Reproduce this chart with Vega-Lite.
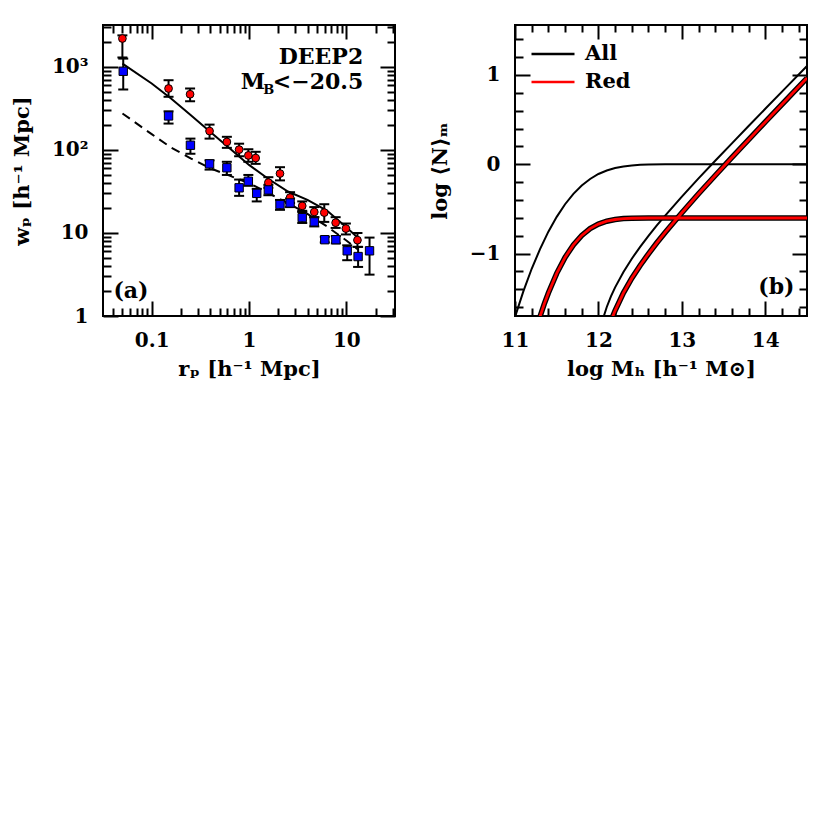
{
  "$schema": "https://vega.github.io/schema/vega-lite/v6.json",
  "background": "white",
  "padding": {"left": 10, "top": 23, "right": 5, "bottom": 5},
  "bounds": "flush",
  "spacing": 120,
  "config": {
    "view": {"stroke": "black", "strokeWidth": 2},
    "axis": {"labelFont": "DejaVu Serif", "labelFontWeight": "bold", "labelFontSize": 20, "labelColor": "black",
             "titleFont": "DejaVu Serif", "titleFontWeight": "bold", "titleFontSize": 21, "titleColor": "black",
             "tickColor": "black", "tickWidth": 2, "domain": false, "grid": false,
             "labelFlush": false, "labelOverlap": false, "labelBound": false},
    "text": {"font": "DejaVu Serif", "fontWeight": "bold", "color": "black"},
    "legend": {"labelFont": "DejaVu Serif", "labelFontWeight": "bold", "labelFontSize": 21, "labelColor": "black"}
  },
  "datasets": {
    "pts": [
      {"sample": "red", "r": 0.05, "w": 2200, "lo": 1300, "hi": 2400},
      {"sample": "red", "r": 0.149, "w": 550, "lo": 437, "hi": 692},
      {"sample": "red", "r": 0.248, "w": 469, "lo": 386, "hi": 550},
      {"sample": "red", "r": 0.393, "w": 169, "lo": 137, "hi": 202},
      {"sample": "red", "r": 0.592, "w": 125, "lo": 106, "hi": 144},
      {"sample": "red", "r": 0.791, "w": 101, "lo": 84, "hi": 119},
      {"sample": "red", "r": 0.984, "w": 86, "lo": 72, "hi": 102},
      {"sample": "red", "r": 1.17, "w": 80, "lo": 68, "hi": 95},
      {"sample": "red", "r": 1.58, "w": 40.5, "lo": 35, "hi": 47},
      {"sample": "red", "r": 2.08, "w": 52, "lo": 43, "hi": 62},
      {"sample": "red", "r": 2.64, "w": 26.7, "lo": 23, "hi": 31},
      {"sample": "red", "r": 3.52, "w": 21.2, "lo": 18.5, "hi": 24},
      {"sample": "red", "r": 4.68, "w": 17.9, "lo": 15.5, "hi": 20.5},
      {"sample": "red", "r": 5.93, "w": 17.6, "lo": 13.6, "hi": 22.2},
      {"sample": "red", "r": 7.76, "w": 13.3, "lo": 11.5, "hi": 15.5},
      {"sample": "red", "r": 9.89, "w": 11.3, "lo": 9.6, "hi": 13},
      {"sample": "red", "r": 13.0, "w": 8.2, "lo": 6.8, "hi": 10},
      {"sample": "blue", "r": 0.051, "w": 887, "lo": 535, "hi": 1260},
      {"sample": "blue", "r": 0.149, "w": 257, "lo": 208, "hi": 292},
      {"sample": "blue", "r": 0.25, "w": 114, "lo": 90, "hi": 137},
      {"sample": "blue", "r": 0.393, "w": 68, "lo": 58, "hi": 75},
      {"sample": "blue", "r": 0.592, "w": 61, "lo": 50, "hi": 72},
      {"sample": "blue", "r": 0.791, "w": 35, "lo": 28, "hi": 44},
      {"sample": "blue", "r": 0.984, "w": 42, "lo": 37, "hi": 50},
      {"sample": "blue", "r": 1.2, "w": 30, "lo": 24, "hi": 34},
      {"sample": "blue", "r": 1.58, "w": 33, "lo": 28.5, "hi": 38},
      {"sample": "blue", "r": 2.08, "w": 22, "lo": 19, "hi": 25},
      {"sample": "blue", "r": 2.64, "w": 23, "lo": 20.5, "hi": 26},
      {"sample": "blue", "r": 3.52, "w": 15.3, "lo": 13.2, "hi": 17.9},
      {"sample": "blue", "r": 4.68, "w": 13.6, "lo": 12, "hi": 15.5},
      {"sample": "blue", "r": 6.0, "w": 8.3, "lo": 7.7, "hi": 9.0},
      {"sample": "blue", "r": 7.8, "w": 8.3, "lo": 7.5, "hi": 9.2},
      {"sample": "blue", "r": 10.2, "w": 6.1, "lo": 4.7, "hi": 7.1},
      {"sample": "blue", "r": 13.2, "w": 5.2, "lo": 3.9, "hi": 6.8},
      {"sample": "blue", "r": 17.3, "w": 6.1, "lo": 3.15, "hi": 8.8}
    ],
    "models": [
      {"model": "solid", "r": 0.0501, "w": 1096},
      {"model": "solid", "r": 0.1, "w": 631},
      {"model": "solid", "r": 0.158, "w": 417},
      {"model": "solid", "r": 0.251, "w": 263},
      {"model": "solid", "r": 0.398, "w": 166},
      {"model": "solid", "r": 0.631, "w": 105},
      {"model": "solid", "r": 1.0, "w": 66.1},
      {"model": "solid", "r": 1.585, "w": 44.7},
      {"model": "solid", "r": 2.512, "w": 31.6},
      {"model": "solid", "r": 3.981, "w": 25.1},
      {"model": "solid", "r": 6.31, "w": 18.6},
      {"model": "solid", "r": 10.0, "w": 11.7},
      {"model": "solid", "r": 13.18, "w": 8.71},
      {"model": "dashed", "r": 0.0501, "w": 275},
      {"model": "dashed", "r": 0.1, "w": 155},
      {"model": "dashed", "r": 0.158, "w": 107},
      {"model": "dashed", "r": 0.251, "w": 79.4},
      {"model": "dashed", "r": 0.398, "w": 60.3},
      {"model": "dashed", "r": 0.631, "w": 49.0},
      {"model": "dashed", "r": 1.0, "w": 39.8},
      {"model": "dashed", "r": 1.585, "w": 30.2},
      {"model": "dashed", "r": 2.512, "w": 22.9},
      {"model": "dashed", "r": 3.981, "w": 17.0},
      {"model": "dashed", "r": 6.31, "w": 12.0},
      {"model": "dashed", "r": 10.0, "w": 8.13},
      {"model": "dashed", "r": 13.18, "w": 6.31}
    ],
    "hod": [
      {"sample": "All", "curve": "cenAll", "x": 11.0, "y": -1.712},
      {"sample": "All", "curve": "cenAll", "x": 11.1, "y": -1.425},
      {"sample": "All", "curve": "cenAll", "x": 11.2, "y": -1.171},
      {"sample": "All", "curve": "cenAll", "x": 11.3, "y": -0.951},
      {"sample": "All", "curve": "cenAll", "x": 11.4, "y": -0.755},
      {"sample": "All", "curve": "cenAll", "x": 11.5, "y": -0.589},
      {"sample": "All", "curve": "cenAll", "x": 11.6, "y": -0.448},
      {"sample": "All", "curve": "cenAll", "x": 11.7, "y": -0.331},
      {"sample": "All", "curve": "cenAll", "x": 11.8, "y": -0.238},
      {"sample": "All", "curve": "cenAll", "x": 11.9, "y": -0.165},
      {"sample": "All", "curve": "cenAll", "x": 12.0, "y": -0.109},
      {"sample": "All", "curve": "cenAll", "x": 12.1, "y": -0.070},
      {"sample": "All", "curve": "cenAll", "x": 12.2, "y": -0.042},
      {"sample": "All", "curve": "cenAll", "x": 12.3, "y": -0.024},
      {"sample": "All", "curve": "cenAll", "x": 12.4, "y": -0.013},
      {"sample": "All", "curve": "cenAll", "x": 12.5, "y": -0.006},
      {"sample": "All", "curve": "cenAll", "x": 12.6, "y": -0.003},
      {"sample": "All", "curve": "cenAll", "x": 12.8, "y": -0.001},
      {"sample": "All", "curve": "cenAll", "x": 13.0, "y": 0},
      {"sample": "All", "curve": "cenAll", "x": 14.5, "y": 0},
      {"sample": "All", "curve": "satAll", "x": 12.05, "y": -1.744},
      {"sample": "All", "curve": "satAll", "x": 12.1, "y": -1.599},
      {"sample": "All", "curve": "satAll", "x": 12.15, "y": -1.481},
      {"sample": "All", "curve": "satAll", "x": 12.2, "y": -1.379},
      {"sample": "All", "curve": "satAll", "x": 12.3, "y": -1.206},
      {"sample": "All", "curve": "satAll", "x": 12.4, "y": -1.058},
      {"sample": "All", "curve": "satAll", "x": 12.5, "y": -0.925},
      {"sample": "All", "curve": "satAll", "x": 12.6, "y": -0.802},
      {"sample": "All", "curve": "satAll", "x": 12.7, "y": -0.686},
      {"sample": "All", "curve": "satAll", "x": 12.8, "y": -0.575},
      {"sample": "All", "curve": "satAll", "x": 13.0, "y": -0.363},
      {"sample": "All", "curve": "satAll", "x": 13.2, "y": -0.159},
      {"sample": "All", "curve": "satAll", "x": 13.4, "y": 0.039},
      {"sample": "All", "curve": "satAll", "x": 13.6, "y": 0.234},
      {"sample": "All", "curve": "satAll", "x": 13.8, "y": 0.428},
      {"sample": "All", "curve": "satAll", "x": 14.0, "y": 0.621},
      {"sample": "All", "curve": "satAll", "x": 14.25, "y": 0.861},
      {"sample": "All", "curve": "satAll", "x": 14.5, "y": 1.100},
      {"sample": "Red", "curve": "cenRed", "x": 11.3, "y": -1.706},
      {"sample": "Red", "curve": "cenRed", "x": 11.35, "y": -1.567},
      {"sample": "Red", "curve": "cenRed", "x": 11.4, "y": -1.442},
      {"sample": "Red", "curve": "cenRed", "x": 11.5, "y": -1.222},
      {"sample": "Red", "curve": "cenRed", "x": 11.6, "y": -1.043},
      {"sample": "Red", "curve": "cenRed", "x": 11.7, "y": -0.903},
      {"sample": "Red", "curve": "cenRed", "x": 11.8, "y": -0.797},
      {"sample": "Red", "curve": "cenRed", "x": 11.9, "y": -0.721},
      {"sample": "Red", "curve": "cenRed", "x": 12.0, "y": -0.670},
      {"sample": "Red", "curve": "cenRed", "x": 12.1, "y": -0.638},
      {"sample": "Red", "curve": "cenRed", "x": 12.2, "y": -0.619},
      {"sample": "Red", "curve": "cenRed", "x": 12.3, "y": -0.609},
      {"sample": "Red", "curve": "cenRed", "x": 12.4, "y": -0.605},
      {"sample": "Red", "curve": "cenRed", "x": 12.6, "y": -0.602},
      {"sample": "Red", "curve": "cenRed", "x": 14.5, "y": -0.602},
      {"sample": "Red", "curve": "satRed", "x": 12.14, "y": -1.787},
      {"sample": "Red", "curve": "satRed", "x": 12.17, "y": -1.709},
      {"sample": "Red", "curve": "satRed", "x": 12.2, "y": -1.639},
      {"sample": "Red", "curve": "satRed", "x": 12.3, "y": -1.441},
      {"sample": "Red", "curve": "satRed", "x": 12.4, "y": -1.277},
      {"sample": "Red", "curve": "satRed", "x": 12.5, "y": -1.134},
      {"sample": "Red", "curve": "satRed", "x": 12.6, "y": -1.003},
      {"sample": "Red", "curve": "satRed", "x": 12.7, "y": -0.880},
      {"sample": "Red", "curve": "satRed", "x": 12.8, "y": -0.764},
      {"sample": "Red", "curve": "satRed", "x": 13.0, "y": -0.543},
      {"sample": "Red", "curve": "satRed", "x": 13.2, "y": -0.331},
      {"sample": "Red", "curve": "satRed", "x": 13.4, "y": -0.126},
      {"sample": "Red", "curve": "satRed", "x": 13.6, "y": 0.076},
      {"sample": "Red", "curve": "satRed", "x": 13.8, "y": 0.275},
      {"sample": "Red", "curve": "satRed", "x": 14.0, "y": 0.474},
      {"sample": "Red", "curve": "satRed", "x": 14.25, "y": 0.720},
      {"sample": "Red", "curve": "satRed", "x": 14.5, "y": 0.966}
    ]
  },
  "hconcat": [
    {
      "width": 292,
      "height": 291,
      "layer": [
        {
          "data": {"name": "models"},
          "transform": [{"filter": "datum.model == 'solid'"}],
          "mark": {"type": "line", "stroke": "black", "strokeWidth": 2, "clip": true},
          "encoding": {
            "x": {"field": "r", "type": "quantitative",
                  "scale": {"type": "log", "domain": [0.0316, 31.6], "nice": false},
                  "axis": {"orient": "bottom", "title": "rₚ [h⁻¹ Mpc]", "titlePadding": 8,
                           "values": [0.1, 1, 10],
                           "labelExpr": "datum.value==0.1?'0.1':datum.value==1?'1':'10'",
                           "labelPadding": 29, "tickSize": -15}},
            "y": {"field": "w", "type": "quantitative",
                  "scale": {"type": "log", "domain": [1, 3200], "nice": false},
                  "axis": {"orient": "left", "title": "wₚ [h⁻¹ Mpc]", "titlePadding": 19,
                           "values": [1, 10, 100, 1000],
                           "labelExpr": "datum.value==1?'1':datum.value==10?'10':datum.value==100?'10²':'10³'",
                           "labelPadding": 30, "tickSize": -15}}
          }
        },
        {
          "data": {"name": "models"},
          "transform": [{"filter": "datum.model == 'dashed'"}],
          "mark": {"type": "line", "stroke": "black", "strokeWidth": 2, "strokeDash": [9, 6], "clip": true},
          "encoding": {
            "x": {"field": "r", "type": "quantitative",
                  "axis": {"orient": "bottom", "title": null, "labels": false,
                           "values": [0.04,0.05,0.06,0.07,0.08,0.09,0.2,0.3,0.4,0.5,0.6,0.7,0.8,0.9,2,3,4,5,6,7,8,9,20,30],
                           "tickSize": -8}},
            "y": {"field": "w", "type": "quantitative",
                  "axis": {"orient": "left", "title": null, "labels": false,
                           "values": [2,3,4,5,6,7,8,9,20,30,40,50,60,70,80,90,200,300,400,500,600,700,800,900,2000,3000],
                           "tickSize": -8}}
          }
        },
        {
          "data": {"name": "pts"},
          "mark": {"type": "rule", "stroke": "black", "strokeWidth": 2, "clip": true},
          "encoding": {
            "x": {"field": "r", "type": "quantitative",
                  "axis": {"orient": "top", "title": null, "labels": false, "values": [0.1, 1, 10], "tickSize": -14}},
            "y": {"field": "lo", "type": "quantitative",
                  "axis": {"orient": "right", "title": null, "labels": false, "values": [1, 10, 100, 1000], "tickSize": -15}},
            "y2": {"field": "hi"}
          }
        },
        {
          "data": {"name": "pts"},
          "transform": [{"fold": ["lo", "hi"], "as": ["end", "val"]}],
          "mark": {"type": "point", "shape": "stroke", "filled": false, "stroke": "black", "strokeWidth": 2, "size": 100, "opacity": 1, "clip": true},
          "encoding": {
            "x": {"field": "r", "type": "quantitative",
                  "axis": {"orient": "top", "title": null, "labels": false,
                           "values": [0.04,0.05,0.06,0.07,0.08,0.09,0.2,0.3,0.4,0.5,0.6,0.7,0.8,0.9,2,3,4,5,6,7,8,9,20,30],
                           "tickSize": -8}},
            "y": {"field": "val", "type": "quantitative",
                  "axis": {"orient": "right", "title": null, "labels": false,
                           "values": [2,3,4,5,6,7,8,9,20,30,40,50,60,70,80,90,200,300,400,500,600,700,800,900,2000,3000],
                           "tickSize": -8}}
          }
        },
        {
          "data": {"name": "pts"},
          "transform": [{"filter": "datum.sample == 'red'"}],
          "mark": {"type": "point", "shape": "circle", "filled": true, "fill": "#ff0000", "stroke": "black", "strokeWidth": 1, "size": 60, "opacity": 1},
          "encoding": {
            "x": {"field": "r", "type": "quantitative", "axis": null},
            "y": {"field": "w", "type": "quantitative", "axis": null}
          }
        },
        {
          "data": {"name": "pts"},
          "transform": [{"filter": "datum.sample == 'blue'"}],
          "mark": {"type": "point", "shape": "square", "filled": true, "fill": "#0000ff", "stroke": "black", "strokeWidth": 1, "size": 70, "opacity": 1},
          "encoding": {
            "x": {"field": "r", "type": "quantitative", "axis": null},
            "y": {"field": "w", "type": "quantitative", "axis": null}
          }
        },
        {
          "data": {"values": [{"note": "sample label"}]},
          "mark": {"type": "text", "text": ["DEEP2", "M <−20.5"], "fontSize": 22, "lineHeight": 25, "align": "right", "baseline": "alphabetic"},
          "encoding": {"x": {"datum": 14.9, "type": "quantitative", "axis": null}, "y": {"datum": 1100, "type": "quantitative", "axis": null}}
        },
        {
          "data": {"values": [{"note": "subscript"}]},
          "mark": {"type": "text", "text": "B", "fontSize": 13, "align": "left", "baseline": "alphabetic", "dx": -100, "dy": 30},
          "encoding": {"x": {"datum": 14.9, "type": "quantitative", "axis": null}, "y": {"datum": 1100, "type": "quantitative", "axis": null}}
        },
        {
          "data": {"values": [{"note": "panel a"}]},
          "mark": {"type": "text", "text": "(a)", "fontSize": 22, "align": "left", "baseline": "alphabetic"},
          "encoding": {"x": {"datum": 0.0404, "type": "quantitative", "axis": null}, "y": {"datum": 1.63, "type": "quantitative", "axis": null}}
        }
      ],
      "resolve": {"axis": {"x": "independent", "y": "independent"}}
    },
    {
      "width": 292,
      "height": 291,
      "data": {"name": "hod"},
      "layer": [
        {
          "transform": [{"filter": "datum.sample == 'Red'"}],
          "mark": {"type": "line", "stroke": "black", "strokeWidth": 5.5, "clip": true},
          "encoding": {
            "x": {"field": "x", "type": "quantitative",
                  "scale": {"domain": [11, 14.5], "nice": false, "zero": false},
                  "axis": {"orient": "bottom", "title": "log Mₕ [h⁻¹ M⊙]", "titlePadding": 8,
                           "values": [11, 12, 13, 14],
                           "labelExpr": "format(datum.value,'d')",
                           "labelPadding": 29, "tickSize": -15}},
            "y": {"field": "y", "type": "quantitative",
                  "scale": {"domain": [-1.7, 1.56], "nice": false, "zero": false},
                  "axis": {"orient": "left", "title": "log ⟨N⟩ₘ", "titlePadding": 19,
                           "values": [-1, 0, 1],
                           "labelExpr": "datum.value==-1?'−1':datum.value==0?'0':'1'",
                           "labelPadding": 30, "tickSize": -15}},
            "detail": {"field": "curve"}
          }
        },
        {
          "transform": [{"filter": "datum.sample == 'All'"}],
          "mark": {"type": "line", "strokeWidth": 2, "clip": true},
          "encoding": {
            "x": {"field": "x", "type": "quantitative",
                  "axis": {"orient": "bottom", "title": null, "labels": false,
                           "values": [11.2,11.4,11.6,11.8,12.2,12.4,12.6,12.8,13.2,13.4,13.6,13.8,14.2,14.4],
                           "tickSize": -8}},
            "y": {"field": "y", "type": "quantitative",
                  "axis": {"orient": "left", "title": null, "labels": false,
                           "values": [-1.6,-1.4,-1.2,-0.8,-0.6,-0.4,-0.2,0.2,0.4,0.6,0.8,1.2,1.4],
                           "tickSize": -8}},
            "detail": {"field": "curve"},
            "color": {"field": "sample", "type": "nominal",
                      "scale": {"domain": ["All", "Red"], "range": ["black", "#ff0000"]},
                      "legend": {"title": null, "orient": "none", "legendX": 427, "legendY": 19, "padding": 0,
                                 "symbolType": "stroke", "symbolSize": 1849, "symbolStrokeWidth": 2.5,
                                 "clipHeight": 20, "rowPadding": 7, "labelOffset": 9}}
          }
        },
        {
          "transform": [{"filter": "datum.sample == 'Red'"}],
          "mark": {"type": "line", "stroke": "#ff0000", "strokeWidth": 2.8, "clip": true},
          "encoding": {
            "x": {"field": "x", "type": "quantitative",
                  "axis": {"orient": "top", "title": null, "labels": false, "values": [11, 12, 13, 14], "tickSize": -14}},
            "y": {"field": "y", "type": "quantitative",
                  "axis": {"orient": "right", "title": null, "labels": false, "values": [-1, 0, 1], "tickSize": -15}},
            "detail": {"field": "curve"}
          }
        },
        {
          "data": {"values": [{"note": "panel b"}]},
          "mark": {"type": "text", "text": "(b)", "fontSize": 22, "align": "left", "baseline": "alphabetic"},
          "encoding": {
            "x": {"datum": 13.916, "type": "quantitative",
                  "axis": {"orient": "top", "title": null, "labels": false,
                           "values": [11.2,11.4,11.6,11.8,12.2,12.4,12.6,12.8,13.2,13.4,13.6,13.8,14.2,14.4],
                           "tickSize": -7}},
            "y": {"datum": -1.457, "type": "quantitative",
                  "axis": {"orient": "right", "title": null, "labels": false,
                           "values": [-1.6,-1.4,-1.2,-0.8,-0.6,-0.4,-0.2,0.2,0.4,0.6,0.8,1.2,1.4],
                           "tickSize": -8}}
          }
        }
      ],
      "resolve": {"axis": {"x": "independent", "y": "independent"}}
    }
  ]
}
